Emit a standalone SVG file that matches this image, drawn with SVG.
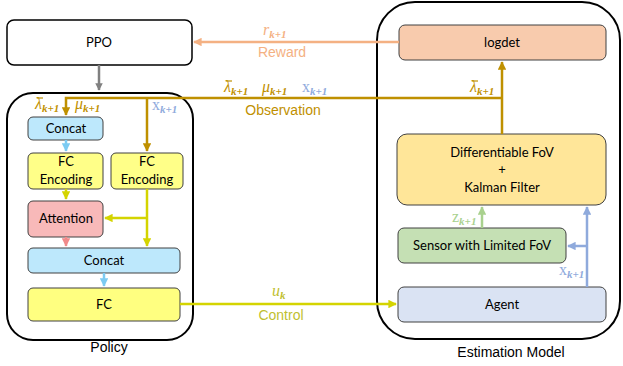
<svg xmlns="http://www.w3.org/2000/svg" width="623" height="366" viewBox="0 0 623 366">
<style>
.box{stroke:#404040;stroke-width:1}
.cont{fill:none;stroke:#000;stroke-width:2}
.t{font-family:Lato,"Liberation Sans",sans-serif;font-size:13px;fill:#000;text-anchor:middle}
.lab{font-family:"Liberation Sans",Arial,sans-serif;font-size:14px;text-anchor:middle}
.m{font-family:"Liberation Serif","Times New Roman",serif;font-size:16px;font-style:italic}
.s{font-size:11px;font-weight:bold}
.up{font-style:normal}
.c{fill:none;stroke-width:2.5}
.bar{stroke-width:1.2}
</style>
<defs>
<marker id="aGold" viewBox="0 0 10 10" refX="9" refY="5" markerWidth="3.4" markerHeight="3.4" orient="auto"><path d="M0,0L10,5L0,10z" fill="#BF9000"/></marker>
<marker id="aRew" viewBox="0 0 10 10" refX="9" refY="5" markerWidth="3.4" markerHeight="3.4" orient="auto"><path d="M0,0L10,5L0,10z" fill="#F4B183"/></marker>
<marker id="aGray" viewBox="0 0 10 10" refX="9" refY="5" markerWidth="3" markerHeight="3" orient="auto"><path d="M0,0L10,5L0,10z" fill="#808080"/></marker>
<marker id="aYel" viewBox="0 0 10 10" refX="9" refY="5" markerWidth="3.4" markerHeight="3.4" orient="auto"><path d="M0,0L10,5L0,10z" fill="#D4D400"/></marker>
<marker id="aCyan" viewBox="0 0 10 10" refX="9" refY="5" markerWidth="3.4" markerHeight="3.4" orient="auto"><path d="M0,0L10,5L0,10z" fill="#7CCBF2"/></marker>
<marker id="aPink" viewBox="0 0 10 10" refX="9" refY="5" markerWidth="3.4" markerHeight="3.4" orient="auto"><path d="M0,0L10,5L0,10z" fill="#F08A8A"/></marker>
<marker id="aGreen" viewBox="0 0 10 10" refX="9" refY="5" markerWidth="3.4" markerHeight="3.4" orient="auto"><path d="M0,0L10,5L0,10z" fill="#A9D18E"/></marker>
<marker id="aBlue" viewBox="0 0 10 10" refX="9" refY="5" markerWidth="3.4" markerHeight="3.4" orient="auto"><path d="M0,0L10,5L0,10z" fill="#8FAADC"/></marker>
</defs>
<rect width="623" height="366" fill="#fff"/>

<g id="policy-container"><rect class="cont" x="7" y="93" width="186" height="247" rx="26"/><text class="lab" x="109" y="352">Policy</text></g>
<g id="estimation-container"><rect class="cont" x="377" y="2" width="243" height="337" rx="38"/><text class="lab" x="511" y="357">Estimation Model</text></g>

<g id="ppo"><rect x="7" y="20" width="185" height="45" rx="7" fill="#fff" stroke="#000" stroke-width="1.5"/><text class="t" x="99" y="47">PPO</text></g>
<g id="logdet"><rect class="box" x="399" y="25" width="207" height="35" rx="6" fill="#F8CBAD"/><text class="t" x="502" y="47">logdet</text></g>
<g id="concat1"><rect class="box" x="28" y="117" width="75" height="23" rx="5" fill="#BDE8FC"/><text class="t" x="66" y="133">Concat</text></g>
<g id="fcenc1"><rect class="box" x="28" y="153" width="75" height="36" rx="5" fill="#FFFF88"/><text class="t" x="66" y="166">FC</text><text class="t" x="66" y="184">Encoding</text></g>
<g id="fcenc2"><rect class="box" x="111" y="153" width="72" height="36" rx="5" fill="#FFFF88"/><text class="t" x="147" y="166">FC</text><text class="t" x="147" y="184">Encoding</text></g>
<g id="attention"><rect class="box" x="28" y="201" width="75" height="36" rx="5" fill="#F8B9B9"/><text class="t" x="66" y="223">Attention</text></g>
<g id="concat2"><rect class="box" x="28" y="248" width="152" height="25" rx="5" fill="#BDE8FC"/><text class="t" x="104" y="265">Concat</text></g>
<g id="fc"><rect class="box" x="28" y="288" width="152" height="33" rx="5" fill="#FFFF80"/><text class="t" x="104" y="309">FC</text></g>
<g id="diff-kf"><rect class="box" x="397" y="134" width="209" height="71" rx="10" fill="#FFE699"/><text class="t" x="502" y="157">Differentiable FoV</text><text class="t" x="502" y="174">+</text><text class="t" x="502" y="192">Kalman Filter</text></g>
<g id="sensor"><rect class="box" x="398" y="228" width="168" height="35" rx="6" fill="#C5E0B4"/><text class="t" x="482" y="250">Sensor with Limited FoV</text></g>
<g id="agent"><rect class="box" x="398" y="287" width="208" height="35" rx="6" fill="#DAE3F3"/><text class="t" x="502" y="309">Agent</text></g>

<g id="connectors">
<path class="c" stroke="#F4B183" d="M399,42H194" marker-end="url(#aRew)"/>
<path class="c" stroke="#808080" stroke-width="3" d="M99,65V90" marker-end="url(#aGray)"/>
<path class="c" stroke="#BF9000" d="M502,134V62" marker-end="url(#aGold)"/>
<path class="c" stroke="#BF9000" d="M502,98H66V115" marker-end="url(#aGold)"/>
<path class="c" stroke="#BF9000" d="M147,98V151" marker-end="url(#aGold)"/>
<path class="c" stroke="#7CCBF2" d="M66,140V151" marker-end="url(#aCyan)"/>
<path class="c" stroke="#D4D400" d="M66,189V199" marker-end="url(#aYel)"/>
<path class="c" stroke="#D4D400" d="M147,189V246" marker-end="url(#aYel)"/>
<path class="c" stroke="#D4D400" d="M147,218H105" marker-end="url(#aYel)"/>
<path class="c" stroke="#F08A8A" d="M66,237V246" marker-end="url(#aPink)"/>
<path class="c" stroke="#7CCBF2" d="M104,273V286" marker-end="url(#aCyan)"/>
<path class="c" stroke="#D4D400" d="M180,304H396" marker-end="url(#aYel)"/>
<path class="c" stroke="#A9D18E" d="M482,228V207" marker-end="url(#aGreen)"/>
<path class="c" stroke="#8FAADC" d="M587,287V207" marker-end="url(#aBlue)"/>
<path class="c" stroke="#8FAADC" d="M587,246H568" marker-end="url(#aBlue)"/>
</g>

<g id="labels">
<text class="m" x="263" y="35" fill="#F4B183">r<tspan class="s" dy="3">k+1</tspan></text>
<text class="lab" x="282" y="57" fill="#F4B183">Reward</text>
<text class="m" x="224" y="92" fill="#BF9000">λ<tspan class="s" dy="3">k+1</tspan></text>
<line class="bar" x1="226" y1="81" x2="232" y2="81" stroke="#BF9000"/>
<text class="m" x="262" y="92" fill="#BF9000">μ<tspan class="s" dy="3">k+1</tspan></text>
<text class="m up" x="302" y="92" fill="#8FAADC">x<tspan class="s" style="font-style:italic" dy="3">k+1</tspan></text>
<text class="lab" x="283" y="115" fill="#BF9000">Observation</text>
<text class="m" x="470" y="92" fill="#BF9000">λ<tspan class="s" dy="3">k+1</tspan></text>
<line class="bar" x1="472" y1="81" x2="478" y2="81" stroke="#BF9000"/>
<text class="m" x="35" y="109" fill="#BF9000">λ<tspan class="s" dy="3">k+1</tspan></text>
<line class="bar" x1="37" y1="98" x2="43" y2="98" stroke="#BF9000"/>
<text class="m" x="75" y="109" fill="#BF9000">μ<tspan class="s" dy="3">k+1</tspan></text>
<text class="m up" x="152" y="110" fill="#8FAADC">x<tspan class="s" style="font-style:italic" dy="3">k+1</tspan></text>
<text class="m" x="272" y="296" fill="#BFBF30">u<tspan class="s" dy="3">k</tspan></text>
<text class="lab" x="281" y="320" fill="#BFBF30">Control</text>
<text class="m up" x="452" y="222" fill="#A9D18E">z<tspan class="s" style="font-style:italic" dy="3">k+1</tspan></text>
<text class="m up" x="559" y="275" fill="#8FAADC">x<tspan class="s" style="font-style:italic" dy="3">k+1</tspan></text>
</g>
</svg>
